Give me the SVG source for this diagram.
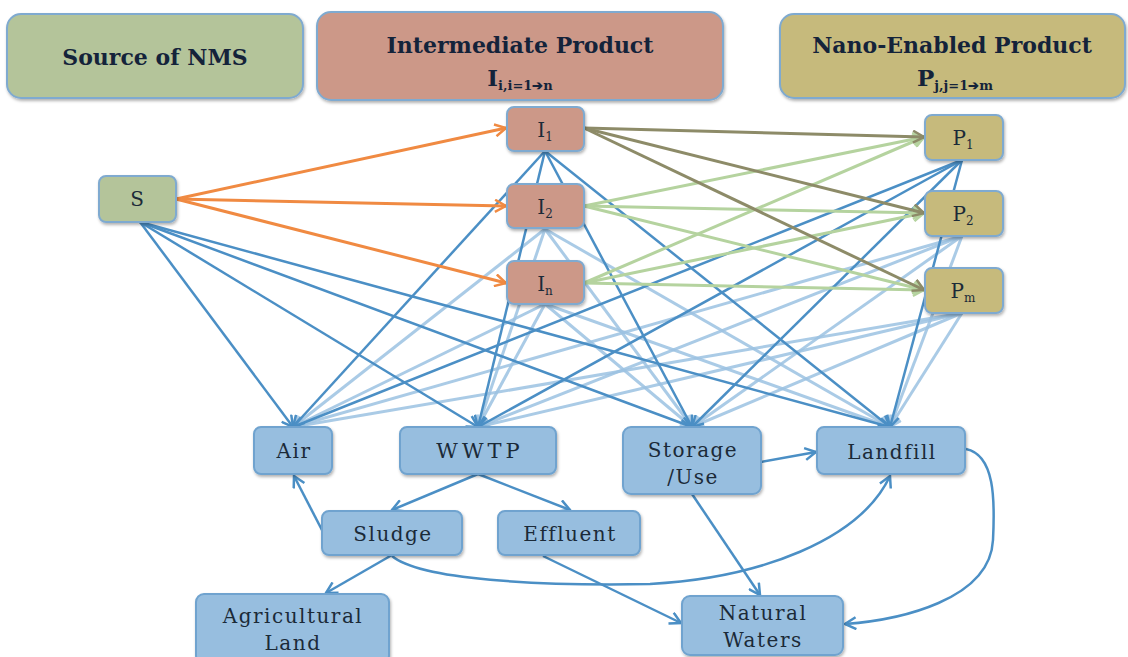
<svg xmlns="http://www.w3.org/2000/svg" width="1128" height="657" viewBox="0 0 1128 657">
<defs>
<filter id="sh" x="-10%" y="-10%" width="125%" height="135%">
<feDropShadow dx="1" dy="2" stdDeviation="1.5" flood-color="#000" flood-opacity="0.3"/>
</filter>
<marker id="aO" markerUnits="userSpaceOnUse" markerWidth="14" markerHeight="14" viewBox="-12 -7 14 14" refX="0" refY="0" orient="auto"><path d="M-11,-6 L0,0 L-11,6" fill="none" stroke="#f08a42" stroke-width="2.5"/></marker>
<marker id="aL" markerUnits="userSpaceOnUse" markerWidth="14" markerHeight="14" viewBox="-12 -7 14 14" refX="0" refY="0" orient="auto"><path d="M-11,-6 L0,0 L-11,6" fill="none" stroke="#8d8b68" stroke-width="2.5"/></marker>
<marker id="aG" markerUnits="userSpaceOnUse" markerWidth="14" markerHeight="14" viewBox="-12 -7 14 14" refX="0" refY="0" orient="auto"><path d="M-11,-6 L0,0 L-11,6" fill="none" stroke="#b5d39f" stroke-width="2.5"/></marker>
<marker id="aB" markerUnits="userSpaceOnUse" markerWidth="14" markerHeight="14" viewBox="-12 -7 14 14" refX="0" refY="0" orient="auto"><path d="M-11,-6 L0,0 L-11,6" fill="none" stroke="#4b8fc5" stroke-width="2.5"/></marker>
<marker id="aLB" markerUnits="userSpaceOnUse" markerWidth="14" markerHeight="14" viewBox="-12 -7 14 14" refX="0" refY="0" orient="auto"><path d="M-11,-6 L0,0 L-11,6" fill="none" stroke="#9cc2e2" stroke-width="2.5"/></marker>
</defs>
<style>
.box{stroke:#7faad0;stroke-width:2;filter:url(#sh)}
.gr{fill:#b4c49a}.rd{fill:#cc9888}.ol{fill:#c6ba7b}.bl{fill:#97bedf;stroke:#6fa3cf}
.ht{font-family:"DejaVu Serif","Liberation Serif",serif;font-weight:bold;font-size:22px;fill:#14233a;text-anchor:middle}
.nt{font-family:"DejaVu Serif","Liberation Serif",serif;font-size:20px;letter-spacing:1.5px;fill:#1b2a38;text-anchor:middle}
.it{font-family:"DejaVu Serif","Liberation Serif",serif;font-size:20px;fill:#1b2a38;text-anchor:middle}
.sub{font-size:12px}
.o{stroke:#f08a42;stroke-width:3;fill:none;marker-end:url(#aO)}
.l{stroke:#8d8b68;stroke-width:3;fill:none;marker-end:url(#aL)}
.g{stroke:#b5d39f;stroke-width:3;fill:none;marker-end:url(#aG)}
.b{stroke:#4b8fc5;stroke-width:2.5;fill:none;marker-end:url(#aB)}
.lb{stroke:#9cc2e2;stroke-width:3;fill:none;opacity:0.85;marker-end:url(#aLB)}
</style>
<rect width="1128" height="657" fill="#fff"/>

<g id="hdr-source"><rect class="box gr" x="7" y="14" width="296" height="84" rx="14"/><text class="ht" x="155" y="65">Source of  NMS</text></g>
<g id="hdr-intermediate"><rect class="box rd" x="317" y="12" width="406" height="88" rx="14"/><text class="ht" x="520" y="53">Intermediate Product</text><text class="ht" x="520" y="86"><tspan font-size="23">I</tspan><tspan font-size="13" dy="4">i,i=1➔n</tspan></text></g>
<g id="hdr-nano"><rect class="box ol" x="780" y="14" width="345" height="84" rx="14"/><text class="ht" x="952" y="53">Nano-Enabled Product</text><text class="ht" x="955" y="86"><tspan font-size="23">P</tspan><tspan font-size="13" dy="4">j,j=1➔m</tspan></text></g>

<g id="connectors">
<line class="lb" x1="545" y1="229" x2="293" y2="427"/>
<line class="lb" x1="545" y1="229" x2="478" y2="427"/>
<line class="lb" x1="545" y1="229" x2="692" y2="427"/>
<line class="lb" x1="545" y1="229" x2="890" y2="427"/>
<line class="lb" x1="545" y1="304" x2="293" y2="427"/>
<line class="lb" x1="545" y1="304" x2="478" y2="427"/>
<line class="lb" x1="545" y1="304" x2="692" y2="427"/>
<line class="lb" x1="545" y1="304" x2="890" y2="427"/>
<line class="lb" x1="962" y1="236" x2="293" y2="427"/>
<line class="lb" x1="962" y1="236" x2="478" y2="427"/>
<line class="lb" x1="962" y1="236" x2="692" y2="427"/>
<line class="lb" x1="962" y1="236" x2="890" y2="427"/>
<line class="lb" x1="962" y1="313" x2="293" y2="427"/>
<line class="lb" x1="962" y1="313" x2="478" y2="427"/>
<line class="lb" x1="962" y1="313" x2="692" y2="427"/>
<line class="lb" x1="962" y1="313" x2="890" y2="427"/>
<line class="b" x1="140" y1="222" x2="293" y2="427"/>
<line class="b" x1="140" y1="222" x2="478" y2="427"/>
<line class="b" x1="140" y1="222" x2="692" y2="427"/>
<line class="b" x1="140" y1="222" x2="890" y2="427"/>
<line class="b" x1="545" y1="151" x2="293" y2="427"/>
<line class="b" x1="545" y1="151" x2="478" y2="427"/>
<line class="b" x1="545" y1="151" x2="692" y2="427"/>
<line class="b" x1="545" y1="151" x2="890" y2="427"/>
<line class="b" x1="962" y1="160" x2="293" y2="427"/>
<line class="b" x1="962" y1="160" x2="478" y2="427"/>
<line class="b" x1="962" y1="160" x2="692" y2="427"/>
<line class="b" x1="962" y1="160" x2="890" y2="427"/>
<line class="g" x1="584" y1="206" x2="924" y2="137"/>
<line class="g" x1="584" y1="206" x2="924" y2="213"/>
<line class="g" x1="584" y1="206" x2="924" y2="290"/>
<line class="g" x1="584" y1="283" x2="924" y2="137"/>
<line class="g" x1="584" y1="283" x2="924" y2="213"/>
<line class="g" x1="584" y1="283" x2="924" y2="290"/>
<line class="l" x1="584" y1="128" x2="924" y2="137"/>
<line class="l" x1="584" y1="128" x2="924" y2="213"/>
<line class="l" x1="584" y1="128" x2="924" y2="290"/>
<line class="o" x1="176" y1="199" x2="506" y2="128"/>
<line class="o" x1="176" y1="199" x2="506" y2="206"/>
<line class="o" x1="176" y1="199" x2="506" y2="283"/>
<line class="b" x1="761" y1="462" x2="816" y2="452"/>
<line class="b" x1="323" y1="532" x2="294" y2="476"/>
<line class="b" x1="478" y1="474" x2="392" y2="510"/>
<line class="b" x1="478" y1="474" x2="570" y2="510"/>
<line class="b" x1="392" y1="555" x2="326" y2="593"/>
<path class="b" d="M392,556 C420,580 540,586 650,584 C760,578 860,540 890,476"/>
<line class="b" x1="543" y1="556" x2="681" y2="623"/>
<line class="b" x1="692" y1="494" x2="760" y2="595"/>
<path class="b" d="M966,449 C995,455 995,500 993,540 C990,600 900,620 845,624"/>
</g>

<g id="S"><rect class="box gr" x="99" y="176" width="77" height="46" rx="7"/><text class="it" x="137" y="206">S</text></g>
<g id="I1"><rect class="box rd" x="507" y="107" width="77" height="44" rx="7"/><text class="it" x="545" y="137">I<tspan class="sub" dy="4">1</tspan></text></g>
<g id="I2"><rect class="box rd" x="507" y="184" width="77" height="44" rx="7"/><text class="it" x="545" y="214">I<tspan class="sub" dy="4">2</tspan></text></g>
<g id="In"><rect class="box rd" x="507" y="261" width="77" height="43" rx="7"/><text class="it" x="545" y="291">I<tspan class="sub" dy="4">n</tspan></text></g>
<g id="P1"><rect class="box ol" x="925" y="115" width="78" height="45" rx="7"/><text class="it" x="963" y="145">P<tspan class="sub" dy="4">1</tspan></text></g>
<g id="P2"><rect class="box ol" x="925" y="191" width="78" height="45" rx="7"/><text class="it" x="963" y="221">P<tspan class="sub" dy="4">2</tspan></text></g>
<g id="Pm"><rect class="box ol" x="925" y="268" width="78" height="45" rx="7"/><text class="it" x="963" y="298">P<tspan class="sub" dy="4">m</tspan></text></g>

<g id="Air"><rect class="box bl" x="254" y="427" width="78" height="47" rx="7"/><text class="nt" x="294" y="458">Air</text></g>
<g id="WWTP"><rect class="box bl" x="400" y="427" width="156" height="47" rx="7"/><text class="nt" x="480" y="458" style="letter-spacing:4px;font-size:21px">WWTP</text></g>
<g id="Storage"><rect class="box bl" x="623" y="427" width="138" height="67" rx="8"/><text class="nt" x="693" y="457">Storage</text><text class="nt" x="693" y="484">/Use</text></g>
<g id="Landfill"><rect class="box bl" x="817" y="427" width="148" height="47" rx="7"/><text class="nt" x="892" y="459">Landfill</text></g>
<g id="Sludge"><rect class="box bl" x="322" y="511" width="140" height="44" rx="7"/><text class="nt" x="393" y="541">Sludge</text></g>
<g id="Effluent"><rect class="box bl" x="498" y="511" width="142" height="44" rx="7"/><text class="nt" x="570" y="541">Effluent</text></g>
<g id="Agri"><rect class="box bl" x="196" y="594" width="193" height="70" rx="8"/><text class="nt" x="293" y="623">Agricultural</text><text class="nt" x="293" y="650">Land</text></g>
<g id="Natural"><rect class="box bl" x="682" y="596" width="161" height="59" rx="8"/><text class="nt" x="763" y="620">Natural</text><text class="nt" x="763" y="647">Waters</text></g>
</svg>
